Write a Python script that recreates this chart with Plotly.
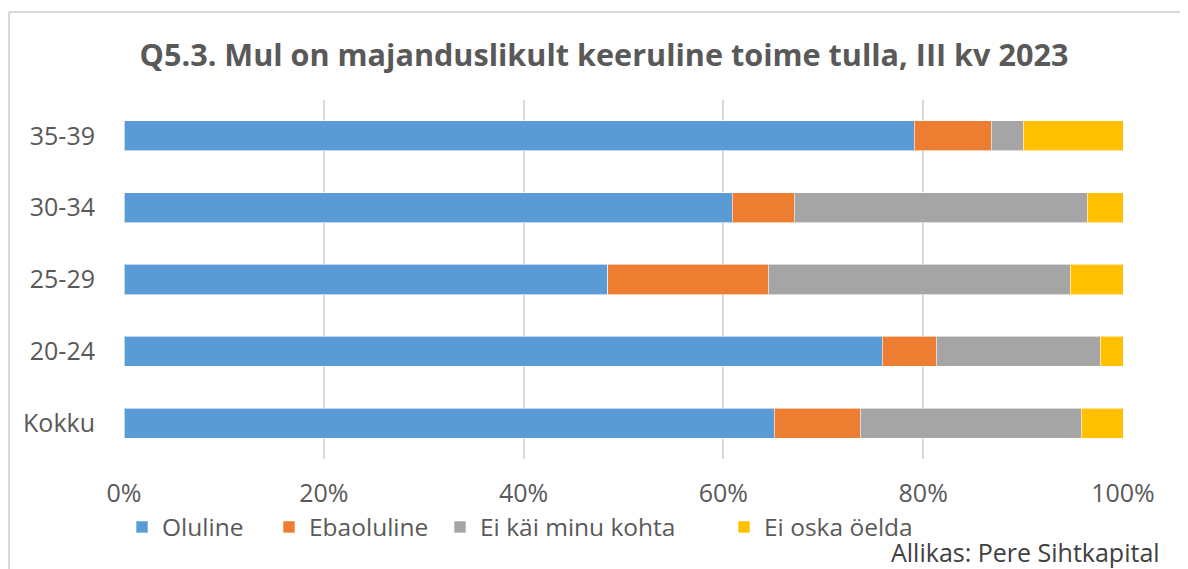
import plotly.graph_objects as go

categories = ["Kokku", "20-24", "25-29", "30-34", "35-39"]
oluline = [65.1, 75.9, 48.4, 60.9, 79.1]
ebaoluline = [8.6, 5.4, 16.1, 6.2, 7.7]
ei_kai = [22.1, 16.4, 30.2, 29.3, 3.2]
ei_oska = [4.2, 2.3, 5.3, 3.6, 10.0]

series_names = ["Oluline", "Ebaoluline", "Ei käi minu kohta", "Ei oska öelda"]
series_values = [oluline, ebaoluline, ei_kai, ei_oska]
colors = ["#5B9BD5", "#ED7D31", "#A5A5A5", "#FFC000"]
x_ticks = [0, 20, 40, 60, 80, 100]
x_tick_labels = ["0%", "20%", "40%", "60%", "80%", "100%"]

FONT = "Open Sans, sans-serif"

# page body adds an 8px offset; work in reference-image pixels and convert
OFF = 8
W, H = 1188 - OFF, 569 - OFF
L, R, T, B = 124, 1123, 100, 459   # plot area in reference pixels
pw, ph = R - L, B - T


def px(xp):
    return (xp - L) / pw


def py(yp):
    return (B - yp) / ph


legend_text_x = [162, 309, 480, 764]
legend_keys = ["legend", "legend2", "legend3", "legend4"]

fig = go.Figure()
for name, vals, col, lk in zip(series_names, series_values, colors, legend_keys):
    fig.add_trace(go.Bar(
        y=categories, x=vals, name=name, orientation="h",
        marker=dict(color=col, line=dict(color="rgba(255,255,255,0.6)", width=1)),
        width=0.42, legend=lk,
    ))

legend_common = dict(
    orientation="h", xanchor="left", yanchor="middle", y=py(527),
    font=dict(size=24.5, color="#595959", family=FONT),
    itemwidth=30, bgcolor="rgba(0,0,0,0)", borderwidth=0,
)

layout_legends = {}
for lk, tx in zip(legend_keys, legend_text_x):
    layout_legends[lk] = dict(legend_common, x=px(tx - 40))

fig.update_layout(
    barmode="stack",
    width=W, height=H,
    margin=dict(l=L - OFF, r=(1188 - R), t=T - OFF, b=569 - B, pad=0),
    paper_bgcolor="white", plot_bgcolor="white",
    font=dict(family=FONT, color="#595959", size=24),
    title=dict(
        text="<b>Q5.3. Mul on majanduslikult keeruline toime tulla, III kv 2023</b>",
        x=(604 - OFF) / W, xanchor="center", y=1 - (55 - OFF) / H, yanchor="middle",
        font=dict(family=FONT, size=30.6, color="#595959"),
    ),
    xaxis=dict(
        range=[0, 100], tickvals=x_ticks, ticktext=x_tick_labels,
        showgrid=True, gridcolor="#D9D9D9", gridwidth=2,
        zeroline=False, showline=False, ticks="",
        tickfont=dict(size=25, color="#595959"),
        ticklabelstandoff=17,
    ),
    yaxis=dict(
        categoryorder="array", categoryarray=categories,
        showgrid=False, zeroline=False, showline=False, ticks="",
        tickfont=dict(size=25, color="#595959"),
        ticklabelstandoff=28,
    ),
    bargap=0.58,
    showlegend=True,
    **layout_legends,
)

fig.add_annotation(
    text="Allikas: Pere Sihtkapital", xref="paper", yref="paper",
    x=px(1162), y=py(552), xanchor="right", yanchor="middle",
    showarrow=False, font=dict(family=FONT, size=25, color="#404040"),
)

# frame of the chart area
fig.add_shape(type="line", xref="paper", yref="paper",
              x0=px(9), x1=px(1188), y0=py(12), y1=py(12),
              line=dict(color="#D9D9D9", width=2))
fig.add_shape(type="line", xref="paper", yref="paper",
              x0=px(9), x1=px(9), y0=py(12), y1=py(569),
              line=dict(color="#D9D9D9", width=2))

fig.write_html("out.html")
